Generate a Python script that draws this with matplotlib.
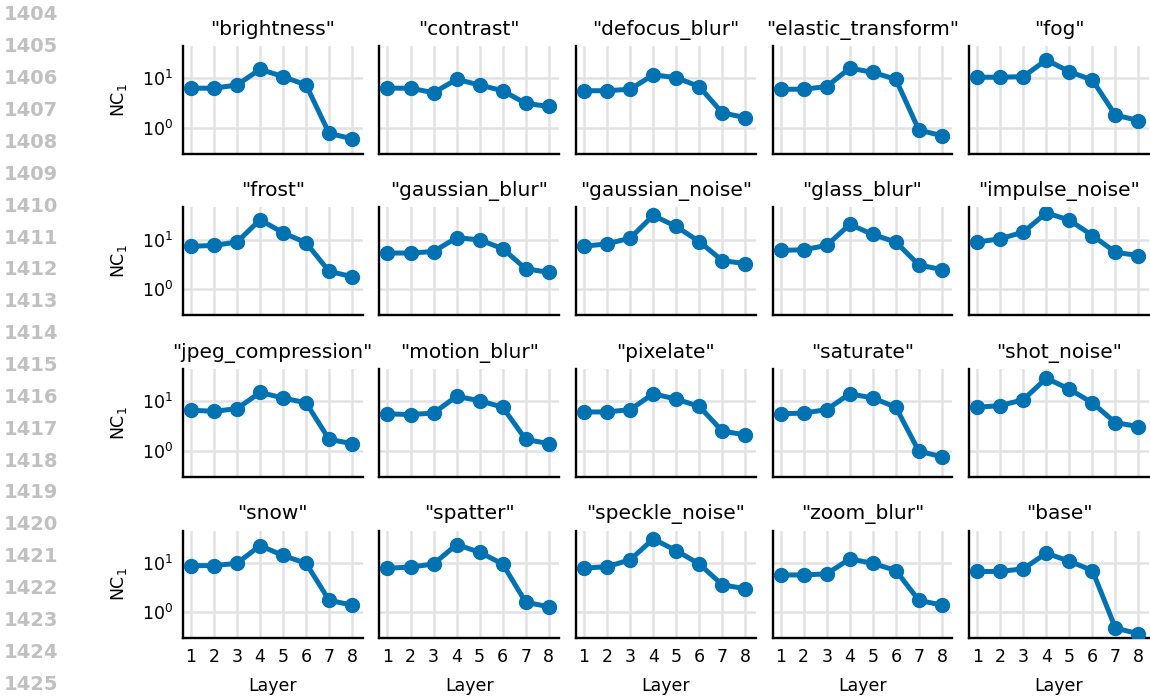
import numpy as np
import matplotlib
matplotlib.use("Agg")
import matplotlib.pyplot as plt
from matplotlib.ticker import LogLocator, NullLocator, LogFormatterMathtext

# NC1 per layer for every corruption type
layers = [1, 2, 3, 4, 5, 6, 7, 8]
corruptions = [
    "brightness", "contrast", "defocus_blur", "elastic_transform", "fog",
    "frost", "gaussian_blur", "gaussian_noise", "glass_blur", "impulse_noise",
    "jpeg_compression", "motion_blur", "pixelate", "saturate", "shot_noise",
    "snow", "spatter", "speckle_noise", "zoom_blur", "base",
]
brightness = [6.3, 6.3, 7.3, 15.2, 10.8, 7.3, 0.77, 0.60]
contrast = [6.3, 6.3, 5.1, 9.5, 7.3, 5.6, 3.1, 2.7]
defocus_blur = [5.6, 5.6, 6.0, 11.7, 10.3, 6.8, 2.0, 1.6]
elastic_transform = [6.0, 6.0, 6.8, 16.0, 13.2, 9.5, 0.9, 0.69]
fog = [10.5, 10.5, 10.8, 23.5, 13.6, 9.2, 1.8, 1.4]
frost = [7.4, 7.7, 9.0, 25.4, 13.9, 8.7, 2.3, 1.8]
gaussian_blur = [5.4, 5.4, 5.8, 11.0, 10.0, 6.6, 2.6, 2.2]
gaussian_noise = [7.4, 8.3, 10.8, 31.0, 18.6, 9.2, 3.8, 3.3]
glass_blur = [6.1, 6.3, 7.7, 20.5, 12.8, 9.0, 3.1, 2.5]
impulse_noise = [9.0, 10.5, 14.3, 35.0, 25.0, 12.2, 5.6, 4.8]
jpeg_compression = [6.6, 6.3, 7.1, 15.1, 11.7, 9.3, 1.7, 1.4]
motion_blur = [5.6, 5.4, 5.8, 12.6, 10.3, 7.6, 1.7, 1.4]
pixelate = [6.1, 6.1, 6.8, 14.2, 11.1, 7.9, 2.5, 2.1]
saturate = [5.6, 5.8, 6.8, 14.2, 11.7, 7.6, 0.98, 0.76]
shot_noise = [7.6, 8.2, 10.8, 29.3, 17.6, 9.3, 3.7, 3.1]
snow = [8.8, 8.8, 9.8, 22.3, 14.1, 9.8, 1.75, 1.4]
spatter = [7.8, 8.2, 9.5, 23.4, 16.4, 9.5, 1.6, 1.3]
speckle_noise = [7.8, 8.4, 11.5, 30.4, 17.7, 9.5, 3.6, 3.0]
zoom_blur = [5.7, 5.7, 6.0, 12.0, 9.8, 7.0, 1.75, 1.4]
base = [6.7, 6.7, 7.6, 15.7, 10.8, 7.0, 0.48, 0.37]

series = [
    brightness, contrast, defocus_blur, elastic_transform, fog,
    frost, gaussian_blur, gaussian_noise, glass_blur, impulse_noise,
    jpeg_compression, motion_blur, pixelate, saturate, shot_noise,
    snow, spatter, speckle_noise, zoom_blur, base,
]
line_numbers = list(range(1404, 1426))

color = "#0072B2"

fig, axes = plt.subplots(4, 5, figsize=(11.5, 6.96), dpi=100, sharex=True, sharey=True)
fig.subplots_adjust(left=0.159, right=0.999, top=0.934, bottom=0.083,
                    wspace=0.094, hspace=0.5)

for i, ax in enumerate(axes.flat):
    ax.plot(layers, series[i], color=color, lw=3.6, marker="o", ms=10, zorder=3)
    ax.set_yscale("log")
    ax.set_ylim(0.30, 45)
    ax.set_xlim(0.65, 8.45)
    ax.set_xticks(layers)
    ax.yaxis.set_major_locator(LogLocator(base=10, numticks=5))
    ax.yaxis.set_major_formatter(LogFormatterMathtext())
    ax.yaxis.set_minor_locator(NullLocator())
    ax.grid(True, color="#e2e2e2", lw=1.8, zorder=0)
    ax.set_axisbelow(True)
    for s in ["top", "right"]:
        ax.spines[s].set_visible(False)
    for s in ["left", "bottom"]:
        ax.spines[s].set_linewidth(1.7)
        ax.spines[s].set_color("black")
    ax.tick_params(length=0, labelsize=12.5, pad=7)
    ax.set_title('"%s"' % corruptions[i], fontsize=14.5, pad=8)
    if i % 5 == 0:
        ax.set_ylabel(r"NC$_1$", fontsize=12.5, labelpad=9)
    if i >= 15:
        ax.set_xlabel("Layer", fontsize=12.5, labelpad=8)

# line numbers from the page margin
for k, n in enumerate(line_numbers):
    y_px = 15 + k * 31.86
    fig.text(0.003, 1 - y_px / 696, str(n), fontsize=14, fontweight="bold",
             color="#c0c0c0", va="center", ha="left")

fig.savefig("out.png", dpi=100)
